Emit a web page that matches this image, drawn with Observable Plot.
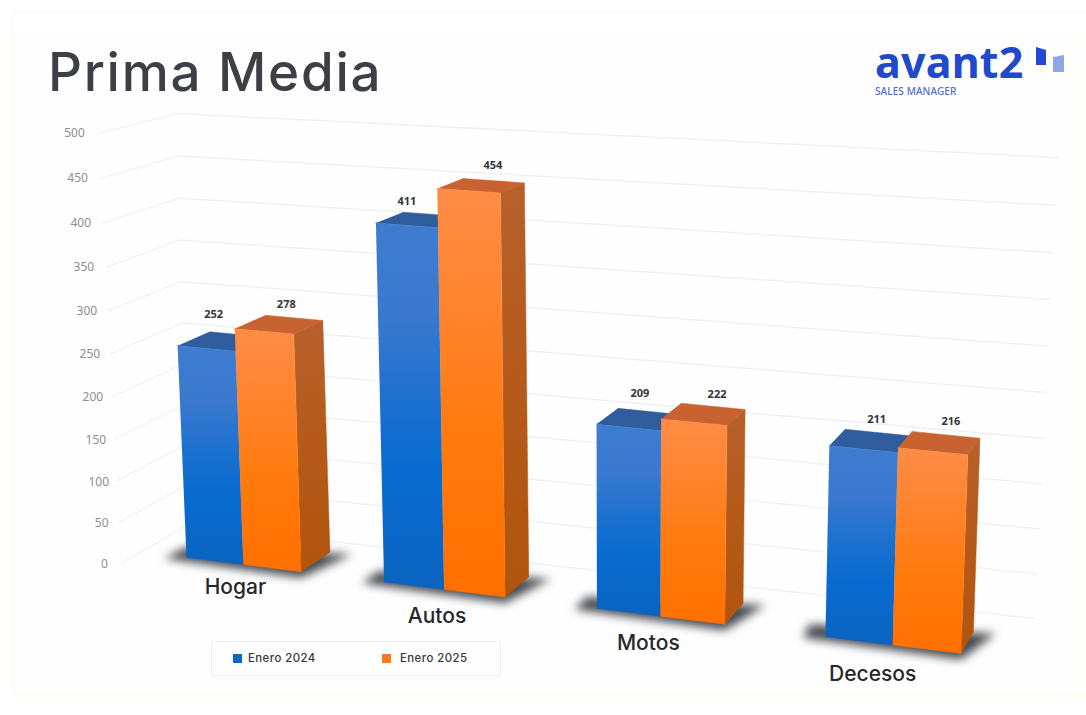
<!DOCTYPE html>
<html lang="es">
<head>
<meta charset="utf-8">
<title>Prima Media</title>
<script src="https://cdn.jsdelivr.net/npm/d3@7"></script>
<script src="https://cdn.jsdelivr.net/npm/@observablehq/plot@0.6"></script>
<style>
  html, body { margin: 0; padding: 0; background: #fff; }
  body { position: relative; width: 1086px; height: 715px; overflow: hidden; font-family: Inter, sans-serif; }
  .strip { position: absolute; left: 12px; top: 11px; right: 0; height: 24px; border-top: 1px solid #f6f6f6; border-left: 1px solid #f8f8f8; }
  .panel { position: absolute; left: 12px; top: 35px; right: 0; height: 662px; background: #fefefe;
           box-shadow: inset 2px 2px 2px #fffcf3, inset 0 -3px 3px #fffcf3; }
  header { position: relative; height: 100px; }
  h1 { position: absolute; left: 48px; top: 39px; margin: 0; font: 500 53px/66px Inter, sans-serif; color: #3c3f45; letter-spacing: 1.7px; }
  .brand { position: absolute; left: 875px; top: 41px; font: 700 43px/41px "Noto Sans", sans-serif; color: #2149cb; letter-spacing: 0.2px; }
  .tagline { position: absolute; left: 875px; top: 85px; font: 500 10px/12px "Noto Sans", sans-serif; color: #4f70cc; letter-spacing: 0.1px; }
  .mark { position: absolute; left: 1035px; top: 46px; }
  #chart { position: relative; line-height: 0; }
  #chart svg { background: transparent; display: block; }
  .legend { position: absolute; left: 211px; top: 641px; width: 288px; height: 33px; border: 1.5px solid #f0f0f0; background: #fefefe; }
  .legend i { position: absolute; top: 12px; width: 9px; height: 9px; }
  .legend span { position: absolute; top: 8px; font: 500 11.4px/17px Inter, sans-serif; color: #33373d; letter-spacing: 0.45px; white-space: nowrap; }
</style>
</head>
<body>
<div class="strip"></div>
<div class="panel"></div>
<header>
  <h1>Prima Media</h1>
  <div class="brand">avant2</div>
  <div class="tagline">SALES MANAGER</div>
  <svg class="mark" width="32" height="28" viewBox="0 0 32 28">
    <path d="M1 1 L11 4 L11 19 L1 19 Z" fill="#2149d8"/>
    <path d="M18 11 L29 9 L29 26 L18 26 Z" fill="#93a6e4"/>
  </svg>
</header>
<div id="chart"></div>
<div class="legend" id="legend"></div>
<script>
// Values per category and series
const categories = ["Hogar", "Autos", "Motos", "Decesos"];
const seriesNames = ["Enero 2024", "Enero 2025"];
const enero2024 = [252, 411, 209, 211];
const enero2025 = [278, 454, 222, 216];
const valueTicks = [0, 50, 100, 150, 200, 250, 300, 350, 400, 450, 500];
const valueMax = 500;

// Perspective set-up of the 3D scene, in page pixels
const frontPlane = quad([186, 557], [961, 653], [977, 181], [168, 128]);
const backWall = quad([186, 525], [1034, 618], [1057, 157], [177, 113]);
const vanishing = [1454, -210];
const barDepth = 0.025;
const groupStart = [0, 0.2745, 0.5545, 0.8385];
const barWidth = 0.0805;
const sideBottom = [120.5, 563], sideTop = [98, 133];
const tickBottom = [104, 564], tickTop = [74, 133];
const axisCurve = -0.05;

// Hand-placed label nudges, page pixels
const valueNudge = [[[7, -34], [22, -27]], [[0, -24], [24, -25]], [[11, -34], [23, -28]], [[13, -30], [18, -30]]];
const categoryNudge = [[-8, 23], [-7, 27], [-12, 27], [-20, 29]];

// Maps the unit square onto a four-sided figure (projective)
function quad(p00, p10, p11, p01) {
  const dx1 = p10[0] - p11[0], dx2 = p01[0] - p11[0], sx = p00[0] - p10[0] + p11[0] - p01[0];
  const dy1 = p10[1] - p11[1], dy2 = p01[1] - p11[1], sy = p00[1] - p10[1] + p11[1] - p01[1];
  const det = dx1 * dy2 - dx2 * dy1;
  const g = (sx * dy2 - dx2 * sy) / det, h = (dx1 * sy - sx * dy1) / det;
  const a = p10[0] - p00[0] + g * p10[0], b = p01[0] - p00[0] + h * p01[0];
  const d = p10[1] - p00[1] + g * p10[1], e = p01[1] - p00[1] + h * p01[1];
  return (u, t) => {
    const w = g * u + h * t + 1;
    return [(a * u + b * t + p00[0]) / w, (d * u + e * t + p00[1]) / w];
  };
}
const toBack = (p) => [p[0] + barDepth * (vanishing[0] - p[0]), p[1] + barDepth * (vanishing[1] - p[1])];
const axisPoint = (a, b, v) => {
  const t = v / valueMax, s = t * (1 + axisCurve) / (1 + axisCurve * t);
  return [a[0] + (b[0] - a[0]) * s, a[1] + (b[1] - a[1]) * s];
};

// Flat list of polygon vertices for the Plot line marks
const poly = (rows, id, pts) => pts.forEach((p) => rows.push({id, x: p[0], y: p[1]}));
const bars = [];
categories.forEach((category, i) => {
  [enero2024[i], enero2025[i]].forEach((value, s) => {
    const u0 = groupStart[i] + s * barWidth, u1 = u0 + barWidth, t = value / valueMax;
    bars.push({
      category, series: seriesNames[s], value, i, s,
      bl: frontPlane(u0, 0), br: frontPlane(u1, 0),
      tl: frontPlane(u0, t), tr: frontPlane(u1, t)
    });
  });
});
const facesFor = (s, build) => {
  const rows = [];
  bars.filter((b) => b.s === s).forEach((b) => poly(rows, b.category + b.series, build(b)));
  return rows;
};
const fronts = (s) => facesFor(s, (b) => [b.tl, b.tr, b.br, b.bl]);
const tops = (s) => facesFor(s, (b) => [b.tl, b.tr, toBack(b.tr), toBack(b.tl)]);
const sides = facesFor(1, (b) => [b.tr, toBack(b.tr), toBack(b.br), b.br]);

const shadows = [];
categories.forEach((category, i) => {
  const left = bars[i * 2], right = bars[i * 2 + 1];
  const fl = left.bl, fr = right.br, br = toBack(right.br), bl = toBack(left.bl);
  poly(shadows, category, [
    [fl[0] - 22, fl[1] + 1], [fr[0], fr[1] + 6], [br[0] + 22, br[1] + 2], [bl[0] - 32, bl[1] + 9]
  ]);
});

const grid = [], sideGrid = [];
valueTicks.forEach((v) => {
  const t = v / valueMax;
  poly(sideGrid, v, [axisPoint(sideBottom, sideTop, v), backWall(0, t)]);
  poly(grid, v, [backWall(0, t), backWall(1, t)]);
});

const tickLabels = valueTicks.map((v) => {
  const [x, y] = axisPoint(tickBottom, tickTop, v);
  return {v, x, y};
});
const valueLabels = bars.map((b) => {
  const [dx, dy] = valueNudge[b.i][b.s];
  return {text: String(b.value), x: (b.tl[0] + b.tr[0]) / 2 + dx, y: (b.tl[1] + b.tr[1]) / 2 + dy};
});
const categoryLabels = categories.map((c, i) => {
  const b = bars[i * 2 + 1].bl, [dx, dy] = categoryNudge[i];
  return {text: c, x: b[0] + dx, y: b[1] + dy};
});

// Vertical gradients used by the front and side faces
const gradient = (id, stops) =>
  `<linearGradient id="${id}" x1="0" y1="0" x2="0" y2="1">` +
  stops.map(([o, c]) => `<stop offset="${o}" stop-color="${c}"/>`).join("") + `</linearGradient>`;
const defs = () => {
  const g = document.createElementNS("http://www.w3.org/2000/svg", "defs");
  g.innerHTML =
    gradient("frontBlue", [[0, "#3f7cd0"], [0.25, "#3a79cf"], [0.5, "#1a70cf"], [0.68, "#086bd0"], [1, "#0a63c0"]]) +
    gradient("frontOrange", [[0, "#fd8c46"], [0.4, "#ff8124"], [0.62, "#ff7a0c"], [1, "#ff7000"]]) +
    gradient("sideOrange", [[0, "#b8602c"], [0.5, "#b55a1a"], [1, "#b0540d"]]);
  return g;
};

const face = (rows, fill) => Plot.line(rows, {x: "x", y: "y", z: "id", fill, stroke: fill, strokeWidth: 0.5});

const chart = Plot.plot({
  width: 1086,
  height: 615,
  margin: 0,
  style: {background: "transparent"},
  x: {domain: [0, 1086], range: [0, 1086], axis: null},
  y: {domain: [100, 715], range: [0, 615], axis: null},
  marks: [
    defs,
    Plot.line(sideGrid, {x: "x", y: "y", z: "id", stroke: "#f4f4f4", strokeWidth: 1.5}),
    Plot.line(grid, {x: "x", y: "y", z: "id", stroke: "#f1f1f1", strokeWidth: 1.5}),
    Plot.line(shadows, {x: "x", y: "y", z: "id", fill: "#464a50", stroke: "none", imageFilter: "blur(5px)"}),
    face(tops(0), "#2f5c9c"),
    face(fronts(0), "url(#frontBlue)"),
    face(tops(1), "#c96231"),
    face(sides, "url(#sideOrange)"),
    face(fronts(1), "url(#frontOrange)"),
    Plot.text(tickLabels, {x: "x", y: "y", text: (d) => String(d.v), fontSize: 12, fill: "#8e8e8e", fontFamily: "'Noto Sans', sans-serif"}),
    Plot.text(valueLabels, {x: "x", y: "y", text: "text", fontSize: 11, fontWeight: 700, fill: "#33363b", fontFamily: "'Noto Sans', sans-serif"}),
    Plot.text(categoryLabels, {x: "x", y: "y", text: "text", fontSize: 21, fontWeight: 500, fill: "#26282c", fontFamily: "Inter, sans-serif"})
  ]
});
document.getElementById("chart").append(chart);

// Legend entries under the chart
const swatchColors = ["#0f67c4", "#ff7a1a"];
const legendOffsets = [[21, 36], [170, 188]];
const legend = document.getElementById("legend");
seriesNames.forEach((name, i) => {
  const swatch = document.createElement("i");
  swatch.style.left = legendOffsets[i][0] + "px";
  swatch.style.background = swatchColors[i];
  const label = document.createElement("span");
  label.style.left = legendOffsets[i][1] + "px";
  label.textContent = name;
  legend.append(swatch, label);
});
</script>
</body>
</html>
